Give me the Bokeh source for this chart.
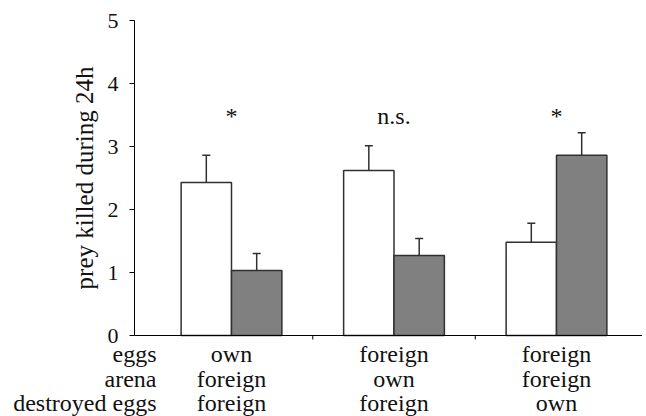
import math
from bokeh.plotting import figure
from bokeh.models import ColumnDataSource, Range1d, Whisker, TeeHead
from bokeh.core.properties import value
from bokeh.embed import file_html
from bokeh.resources import INLINE

# ---- data ----
eggs = ["own", "foreign", "foreign"]
arena = ["foreign", "own", "foreign"]
destroyed = ["foreign", "foreign", "own"]
white_means = [2.43, 2.62, 1.48]
white_err = [0.43, 0.39, 0.30]
gray_means = [1.03, 1.27, 2.86]
gray_err = [0.27, 0.27, 0.36]
signif = ["*", "n.s.", "*"]
row_names = ["eggs", "arena", "destroyed eggs"]
y_ticks = [0, 1, 2, 3, 4, 5]
y_label = "prey killed during 24h"

FONT = "Liberation Serif"
FS = "24px"
LAB_FS = "25px"
TICK_FS = "22px"
EDGE = "#303030"
TXT = "#111111"
BASE_FIX = 7  # px correction for the alphabetic baseline placement

groups = list(range(len(eggs)))
bw = 0.31

# ---- layout (pixels) ----
W, H = 642, 416
AX_X_PX, AX_Y_PX = 134, 335       # where the axes meet
PPU_X, PPU_Y = 162.5, 63.0        # pixels per data unit
G0_PX = 231                       # pixel column of the first group

def dx(px):
    return px / PPU_X

def dy(px):
    return px / PPU_Y

x_lo = -dx(G0_PX)
x_hi = x_lo + dx(W)
y_lo = -dy(H - AX_Y_PX)
y_hi = dy(AX_Y_PX)
ax_x = x_lo + dx(AX_X_PX)         # data x of the y axis

p = figure(width=W, height=H, output_backend="svg", toolbar_location=None,
           x_range=Range1d(x_lo, x_hi), y_range=Range1d(y_lo, y_hi),
           x_axis_location=None, y_axis_location=None,
           min_border_left=0, min_border_top=0, min_border_right=0,
           min_border_bottom=0)
p.outline_line_color = None
p.grid.visible = False
p.background_fill_color = "white"
p.border_fill_color = "white"

# ---- bars and error bars ----
white_x = [g - bw / 2 for g in groups]
gray_x = [g + bw / 2 for g in groups]
ws = ColumnDataSource(dict(x=white_x, top=white_means,
                           up=[m + e for m, e in zip(white_means, white_err)]))
gs = ColumnDataSource(dict(x=gray_x, top=gray_means,
                           up=[m + e for m, e in zip(gray_means, gray_err)]))

for src in (ws, gs):
    p.add_layout(Whisker(base="x", upper="up", lower="top", source=src,
                         line_color=EDGE, line_width=1.5,
                         upper_head=TeeHead(size=8, line_color=EDGE, line_width=1.5),
                         lower_head=None, level="underlay"))

p.vbar(x="x", top="top", width=bw, bottom=0, source=ws,
       fill_color="white", line_color=EDGE, line_width=1.5)
p.vbar(x="x", top="top", width=bw, bottom=0, source=gs,
       fill_color="#808080", line_color=EDGE, line_width=1.5)

# ---- axes ----
# x axis line and group separator ticks
p.segment(x0=[ax_x], x1=[x_hi], y0=[0], y1=[0], line_color="black", line_width=1)
sep = [g + 0.5 for g in groups[:-1]]
p.segment(x0=sep, x1=sep, y0=[0] * len(sep), y1=[-dy(4)] * len(sep),
          line_color="black", line_width=1)
# y axis line, ticks, tick labels
p.segment(x0=[ax_x], x1=[ax_x], y0=[min(y_ticks)], y1=[max(y_ticks)],
          line_color="black", line_width=1)
p.segment(x0=[ax_x - dx(5)] * len(y_ticks), x1=[ax_x] * len(y_ticks),
          y0=y_ticks, y1=y_ticks, line_color="black", line_width=1)
p.text(x=[ax_x - dx(16)] * len(y_ticks), y=y_ticks, text=[str(t) for t in y_ticks],
       text_font=value(FONT), text_font_size=TICK_FS, text_align="right",
       text_baseline="middle", text_color=TXT)
# y axis title
p.text(x=[ax_x - dx(50)], y=[(min(y_ticks) + max(y_ticks)) / 2], text=[y_label],
       angle=math.pi / 2, text_font=value(FONT), text_font_size=LAB_FS,
       text_align="center", text_baseline="middle", text_color=TXT)

# ---- significance labels ----
ann_y = 3.37 + dy(BASE_FIX)
p.text(x=groups, y=[ann_y] * len(groups), text=signif,
       text_font=value(FONT), text_font_size=FS, text_align="center",
       text_baseline="alphabetic", text_color=TXT)

# ---- category rows under the axis ----
row_base_px = [25, 50, 74]   # baseline offsets below the x axis
row_lists = [eggs, arena, destroyed]
head_x = ax_x + dx(22)       # right edge of the row headers
for name, off, vals in zip(row_names, row_base_px, row_lists):
    yv = -dy(off - BASE_FIX)
    p.text(x=[head_x], y=[yv], text=[name], text_align="right",
           text_baseline="alphabetic", text_font=value(FONT),
           text_font_size=FS, text_color=TXT)
    p.text(x=groups, y=[yv] * len(groups), text=vals, text_align="center",
           text_baseline="alphabetic", text_font=value(FONT),
           text_font_size=FS, text_color=TXT)

open("out.html", "w").write(file_html(p, INLINE))
